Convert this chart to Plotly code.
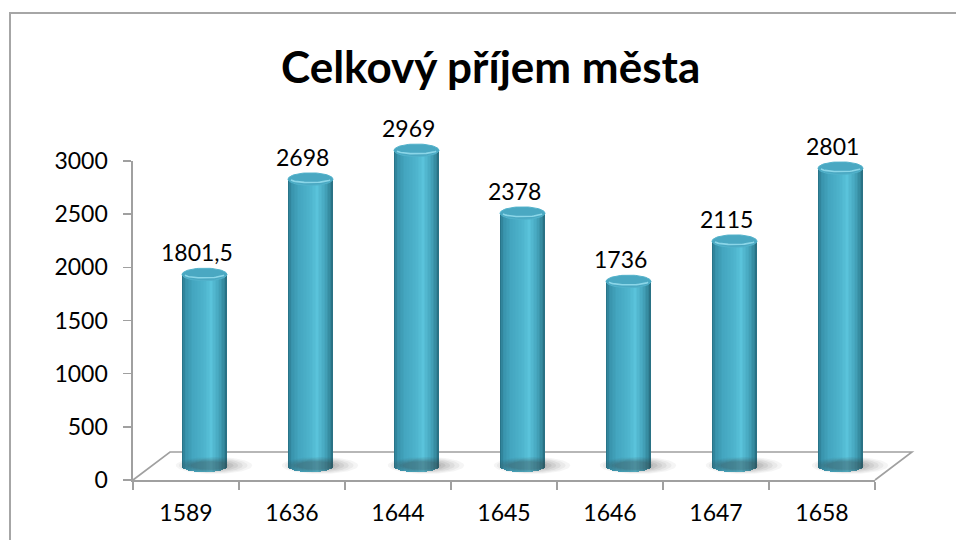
import numpy as np
import plotly.graph_objects as go

# ---- data ----
categories = ["1589", "1636", "1644", "1645", "1646", "1647", "1658"]
values = [1801.5, 2698, 2969, 2378, 1736, 2115, 2801]
value_labels = ["1801,5", "2698", "2969", "2378", "1736", "2115", "2801"]
y_ticks = [0, 500, 1000, 1500, 2000, 2500, 3000]
title_text = "Celkový příjem města"

# ---- geometry (pixels) ----
W, H = 956, 540
FX0, FX1 = 133, 875          # front plane x extent
FY0, FY1 = 480, 161          # pixel of value 0 and 3000
YMAX = 3000
DX, DY = 37, 28              # 3D depth offset
S = (FY0 - FY1) / YMAX       # px per unit
BX0, BX1 = FX0 + DX / 2, FX1 + DX / 2
B_LO, B_HI = -120, 3150      # bar axis range
BY_LO = FY0 - DY / 2 + (-B_LO) * S
BY_HI = FY0 - DY / 2 - B_HI * S

def px(x):
    return x / W

def py(y):
    return 1 - y / H

FONT = "Lato, 'Open Sans', sans-serif"
n = len(categories)
idx = np.arange(n)

fig = go.Figure()

RX = 0.212                 # cylinder radius in category units
RY = 6.3 / S               # ellipse vertical radius in value units

# shadows (soft, layered)
th = np.linspace(0, 2 * np.pi, 72)
for scale, op in [(1.0, 0.05), (0.9, 0.06), (0.8, 0.07), (0.7, 0.08), (0.6, 0.09), (0.5, 0.1)]:
    for i in idx:
        cx = i + 0.09 - (1 - scale) * 0.08
        xs = cx + 0.36 * scale * np.cos(th)
        ys = 5 + (8.5 / S) * scale * np.sin(th)
        fig.add_trace(go.Scatter(x=xs, y=ys, xaxis="x2", yaxis="y2", mode="lines",
                                 fill="toself", fillcolor=f"rgba(60,60,60,{op})",
                                 line=dict(width=0), hoverinfo="skip", showlegend=False))

# cylinder bodies as strips
stops_t = [-1.0, -0.85, -0.5, 0.0, 0.3, 0.65, 0.9, 1.0]
stops_c = [(36, 108, 128), (56, 146, 170), (68, 166, 192), (78, 180, 205),
           (90, 195, 219), (70, 166, 190), (50, 132, 152), (38, 106, 124)]
N = 30
for k in range(N):
    t = -1 + (k + 0.5) * 2 / N
    c = [np.interp(t, stops_t, [s[j] for s in stops_c]) for j in range(3)]
    color = f"rgb({int(c[0])},{int(c[1])},{int(c[2])})"
    xpos = idx + t * RX
    base = -RY * np.sqrt(max(0.0, 1 - t * t))
    fig.add_trace(go.Bar(x=xpos, y=[v - base for v in values], base=[base] * n,
                         width=2 * RX / N * 1.15, marker=dict(color=color, line=dict(width=0)),
                         xaxis="x2", yaxis="y2", hoverinfo="skip", showlegend=False))

# top ellipses
arc = np.linspace(np.pi * 1.08, np.pi * 1.92, 30)
for i, v in zip(idx, values):
    xs = i + RX * np.cos(th)
    ys = v + RY * np.sin(th)
    fig.add_trace(go.Scatter(x=xs, y=ys, xaxis="x2", yaxis="y2", mode="lines",
                             fill="toself", fillcolor="rgb(74,168,194)",
                             line=dict(width=1, color="rgb(82,178,203)"),
                             hoverinfo="skip", showlegend=False, cliponaxis=False))
    xa = i + RX * 0.9 * np.cos(arc)
    ya = v + RY * 0.55 * np.sin(arc)
    fig.add_trace(go.Scatter(x=xa, y=ya, xaxis="x2", yaxis="y2", mode="lines",
                             line=dict(width=1.6, color="rgba(150,222,238,0.85)"),
                             hoverinfo="skip", showlegend=False, cliponaxis=False))

# invisible trace on front axes so they render
fig.add_trace(go.Scatter(x=categories, y=[None] * n, xaxis="x", yaxis="y",
                         mode="markers", showlegend=False, hoverinfo="skip"))

# data labels
for i, lab, v in zip(idx, value_labels, values):
    fig.add_annotation(x=i, y=v, xref="x2", yref="y2", text=lab, showarrow=False,
                       yanchor="bottom", yshift=RY * S + 0, xshift=-8,
                       font=dict(family=FONT, size=23, color="#000000"))

# title
fig.add_annotation(x=px(490), y=py(66), xref="paper", yref="paper", text=f"<b>{title_text}</b>",
                   showarrow=False, xanchor="center", yanchor="middle",
                   font=dict(family=FONT, size=44, color="#000000"))

AXC = "#a0a0a0"
# floor outline
fl = [(FX0, FY0), (FX0 + DX, FY0 - DY), (FX1 + DX, FY0 - DY), (FX1, FY0)]
path = "M " + " L ".join(f"{px(a)},{py(b)}" for a, b in fl)
fig.add_shape(type="path", path=path, xref="paper", yref="paper",
              line=dict(color=AXC, width=1.6), layer="below")
# chart border (left/top visible)
fig.add_shape(type="rect", x0=px(10), y0=-0.05, x1=1.05, y1=py(13), xref="paper", yref="paper",
              line=dict(color="#a6a6a6", width=2), layer="below")

fig.update_layout(
    width=W, height=H, margin=dict(l=0, r=0, t=0, b=0, pad=0, autoexpand=False),
    paper_bgcolor="white", plot_bgcolor="rgba(0,0,0,0)",
    barmode="overlay", bargap=0,
    xaxis=dict(domain=[px(FX0), px(FX1)], type="category", range=[-0.5, n - 0.5],
               showgrid=False, zeroline=False, showline=True, linecolor=AXC, linewidth=1.6,
               ticks="outside", ticklen=8, tickcolor=AXC, tickwidth=1.6, tickson="boundaries",
               tickfont=dict(family=FONT, size=23, color="#000"), ticklabelstandoff=12,
               automargin=False, fixedrange=True),
    yaxis=dict(domain=[py(FY0), py(FY1)], range=[0, YMAX], tickvals=y_ticks,
               showgrid=False, zeroline=False, showline=True, linecolor=AXC, linewidth=1.6,
               ticks="outside", ticklen=8, tickcolor=AXC, tickwidth=1.6,
               tickfont=dict(family=FONT, size=23, color="#000"), ticklabelstandoff=11,
               automargin=False, fixedrange=True),
    xaxis2=dict(domain=[px(BX0), px(BX1)], range=[-0.5, n - 0.5], visible=False,
                anchor="y2", fixedrange=True),
    yaxis2=dict(domain=[py(BY_LO), py(BY_HI)], range=[B_LO, B_HI], visible=False,
                anchor="x2", fixedrange=True),
)

post = "document.body.style.margin='0';document.body.style.overflow='hidden';"
fig.write_html("out.html", post_script=post, config={"displayModeBar": False, "staticPlot": True})
